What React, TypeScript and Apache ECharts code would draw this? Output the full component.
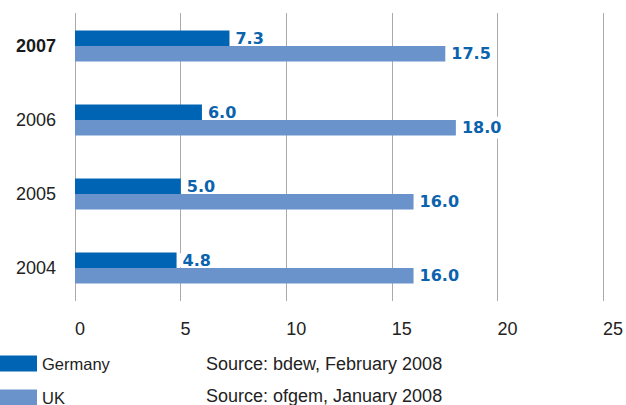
import React, { useEffect, useRef } from "react";
import * as echarts from "echarts";

const years = ["2004", "2005", "2006", "2007"];
const germany = [4.8, 5.0, 6.0, 7.3];
const uk = [16.0, 16.0, 18.0, 17.5];
const sources = ["Source: bdew, February 2008", "Source: ofgem, January 2008"];
const seriesNames = ["Germany", "UK"];

const GER = "#0064b4";
const UKC = "#6a93cc";
const LABEL = "#0b63ad";
const TXT = "#222222";
const SANS = "'Liberation Sans', Arial, sans-serif";

export default function App() {
  const ref = useRef<HTMLDivElement>(null);
  useEffect(() => {
    if (!ref.current) return;
    document.body.style.margin = "0";
    const chart = echarts.init(ref.current, null, { renderer: "svg" });
    const mkLabel = (pad: number[]) => ({
      show: true,
      position: "right",
      distance: 3,
      formatter: (p: any) => Number(p.value).toFixed(1),
      color: LABEL,
      fontFamily: "'DejaVu Sans', sans-serif",
      fontWeight: "bold",
      fontSize: 16,
      lineHeight: 14,
      backgroundColor: "#ffffff",
      padding: pad,
    });
    chart.setOption({
      animation: false,
      grid: [
        { left: 75, right: 22, top: 13, height: 288 },
        { left: 75, right: 22, top: 9, height: 296 },
      ],
      xAxis: [
        {
          gridIndex: 0,
          type: "value",
          min: 0,
          max: 25,
          interval: 5,
          axisLine: { show: false },
          axisTick: { show: false },
          splitLine: { show: true, showMinLine: true, showMaxLine: true, lineStyle: { color: "#aaaaaa", width: 1 } },
          axisLabel: { align: "left", margin: 19, color: TXT, fontSize: 18, fontFamily: SANS },
        },
        { gridIndex: 1, type: "value", min: 0, max: 25, interval: 5, show: false },
      ],
      yAxis: [
        { gridIndex: 0, type: "value", show: false },
        {
          gridIndex: 1,
          type: "category",
          data: years,
          axisLine: { show: false },
          axisTick: { show: false },
          axisLabel: {
            margin: 19,
            color: TXT,
            fontSize: 18,
            fontFamily: SANS,
            formatter: (v: string) => (v === "2007" ? `{b|${v}}` : v),
            rich: { b: { fontWeight: "bold", fontSize: 18, fontFamily: SANS, color: "#1a1a1a" } },
          },
        },
      ],
      legend: [
        {
          data: [seriesNames[0]],
          left: 0,
          top: 355,
          padding: 0,
          icon: "rect",
          itemWidth: 37,
          itemHeight: 16,
          textStyle: { color: TXT, fontSize: 16.5, fontFamily: SANS },
        },
        {
          data: [seriesNames[1]],
          left: 0,
          top: 389,
          padding: 0,
          icon: "rect",
          itemWidth: 37,
          itemHeight: 16,
          textStyle: { color: TXT, fontSize: 16.5, fontFamily: SANS },
        },
      ],
      graphic: sources.map((s, i) => ({
        type: "text",
        left: 206,
        top: i === 0 ? 355 : 387,
        style: { text: s, fill: TXT, fontSize: 18, fontFamily: SANS },
      })),
      series: [
        {
          name: seriesNames[0],
          type: "bar",
          xAxisIndex: 1,
          yAxisIndex: 1,
          data: germany,
          barWidth: 15.5,
          barGap: "0%",
          itemStyle: { color: GER },
          label: mkLabel([0, 3]),
        },
        {
          name: seriesNames[1],
          type: "bar",
          xAxisIndex: 1,
          yAxisIndex: 1,
          data: uk,
          barWidth: 15.5,
          barGap: "0%",
          itemStyle: { color: UKC },
          label: mkLabel([4, 3]),
        },
      ],
    });
    return () => chart.dispose();
  }, []);
  return <div ref={ref} style={{ width: 626, height: 405 }} />;
}
